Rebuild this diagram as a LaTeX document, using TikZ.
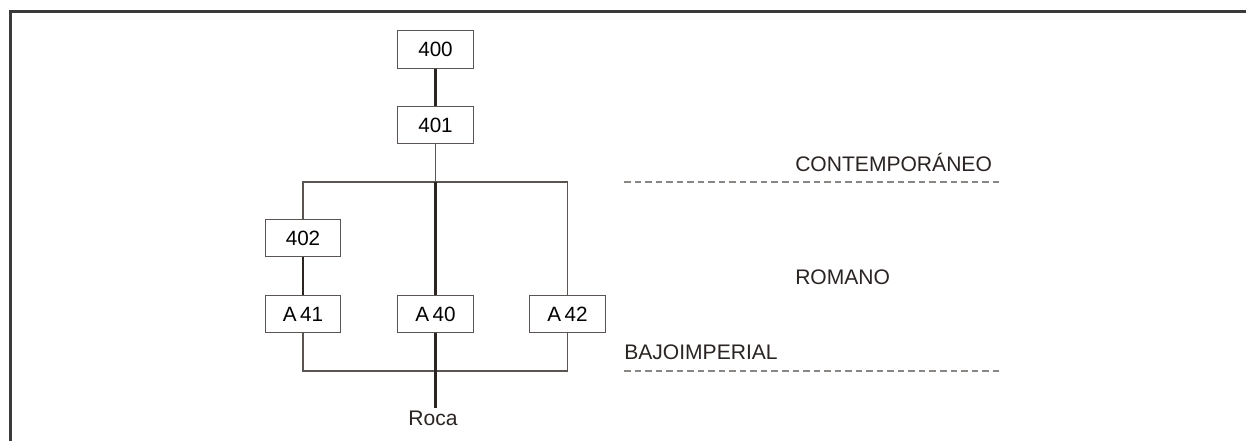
\documentclass[tikz,border=0pt]{standalone}
\usepackage{fontspec}
\setmainfont{Liberation Sans}
\definecolor{ink}{HTML}{2A2422}
\definecolor{thin}{HTML}{5A5452}
\definecolor{dash}{HTML}{8A8684}
\definecolor{frame}{HTML}{3A3A3A}
\tikzset{
  ubox/.style={draw=thin, line width=0.9pt, fill=white, minimum width=56.6pt, minimum height=28.1pt, inner sep=0pt, font=\fontsize{15.5}{18}\selectfont},
  thick link/.style={draw=ink, line width=1.6pt},
  thin link/.style={draw=thin, line width=0.9pt},
  period/.style={draw=dash, line width=1pt, dash pattern=on 4.9pt off 3pt},
  lbl/.style={font=\fontsize{15.8}{18}\selectfont, text=ink, inner sep=0pt}
}
\begin{document}
\begin{tikzpicture}[x=0.75pt,y=-0.75pt]
\useasboundingbox (0,0) rectangle (1246,441);
\draw[frame, line width=1.6pt] (10.5,441) -- (10.5,11.5) -- (1246,11.5);
% nodes
\node[ubox] (n400) at (435.5,49.5) {400};
\node[ubox] (n401) at (435.5,125) {401};
\node[ubox] (n402) at (303,238) {402};
\node[ubox] (a41) at (303,314) {A\,41};
\node[ubox] (a40) at (435.5,314) {A\,40};
\node[ubox] (a42) at (567.5,314) {A\,42};
\node[lbl, anchor=base] (roca) at (433,426) {Roca};
% bracket coordinates
\coordinate (tl) at (303,182);
\coordinate (tc) at (435.5,182);
\coordinate (tr) at (567.5,182);
\coordinate (bl) at (303,371);
\coordinate (bc) at (435.5,371);
\coordinate (br) at (567.5,371);
\coordinate (rt) at (435.5,408);
% connectors
\draw[thick link] (n400) -- (n401);
\draw[thin link] (n401) -- (tc);
\draw[thin link] (n402.north) |- (tc) -| (a42.north);
\draw[thick link] (tc) -- (a40.north);
\draw[thick link] (n402) -- (a41);
\draw[thin link] (a41.south) |- (bc) -| (a42.south);
\draw[thick link] (a40.south) -- (rt);
% periods
\draw[period] (624,182) -- (1002,182);
\draw[period] (624,371) -- (1002,371);
\node[lbl, anchor=base west] (cont) at (795,172) {CONTEMPORÁNEO};
\node[lbl, anchor=base west] (rom) at (795,284.3) {ROMANO};
\node[lbl, anchor=base west] (bajo) at (624,360) {BAJOIMPERIAL};
\end{tikzpicture}
\end{document}
